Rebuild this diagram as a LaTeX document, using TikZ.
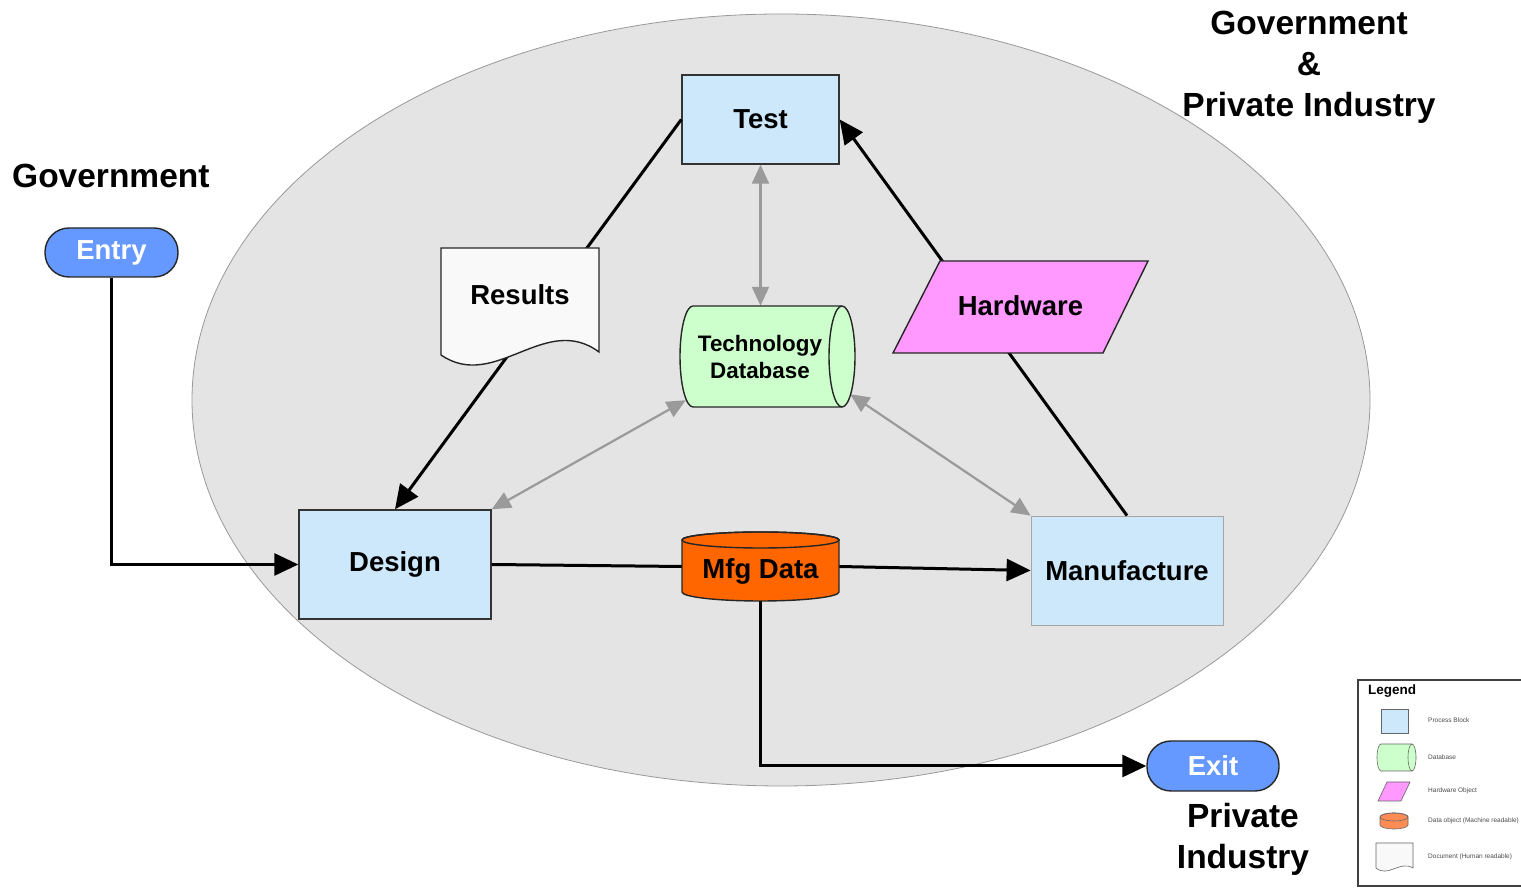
\documentclass[tikz,border=0pt]{standalone}
\usepackage{fontspec}
\setmainfont{Liberation Sans}
\usetikzlibrary{arrows.meta}
\definecolor{procblue}{HTML}{CCE8FA}
\definecolor{dbgreen}{HTML}{CCFFCC}
\definecolor{hwpink}{HTML}{FF99FF}
\definecolor{mfgorange}{HTML}{FF6600}
\definecolor{legorange}{HTML}{FF8C55}
\definecolor{pillblue}{HTML}{6699FF}
\definecolor{docwhite}{HTML}{F9F9F9}
\definecolor{realm}{HTML}{E4E4E4}
\definecolor{linkgray}{HTML}{9A9A9A}
\begin{document}
\begin{tikzpicture}[x=1pt,y=1pt,
  lbl/.style={font=\fontsize{27.5}{33}\selectfont\bfseries},
  procbox/.style={draw=black!80, line width=1.4pt, fill=procblue, inner sep=0pt, lbl},
  hidden/.style={draw=none, inner sep=0pt},
  outline/.style={draw=black!85, line width=1.4pt},
  pill/.style={draw=black!85, line width=1.4pt, fill=pillblue, rounded corners=24pt,
    inner sep=0pt, text=white, lbl},
  flow/.style={line width=3pt, -{Triangle[length=24pt,width=22pt]}},
  plain/.style={line width=3pt},
  link/.style={draw=linkgray, line width=2.2pt,
    {Triangle[length=19pt,width=17pt]}-{Triangle[length=19pt,width=17pt]}},
  biglabel/.style={font=\fontsize{33.5}{41}\selectfont\bfseries, align=center, inner sep=0pt},
  legtext/.style={font=\fontsize{6.5}{8}\selectfont, text=black!70, anchor=west, inner sep=0pt},
  legshape/.style={draw=black!60, line width=0.6pt}
]
\useasboundingbox (0,0) rectangle (1521,888);
\clip (0,0) rectangle (1521,888);

% shared realm of government and private industry
\draw[fill=realm, draw=black!40, line width=0.8pt] (781,488) ellipse[x radius=589, y radius=386];

% node frames
\node[procbox, minimum width=157pt, minimum height=89pt] (test) at (760.5,768.5) {Test};
\node[hidden, minimum width=175pt, minimum height=101pt] (techdb) at (767.5,531.5) {};
\node[hidden, minimum width=158pt, minimum height=117pt] (results) at (520,581.5) {};
\node[hidden, minimum width=255pt, minimum height=92pt] (hardware) at (1020.5,581) {};
\node[procbox, minimum width=192pt, minimum height=109pt] (design) at (395,323.5) {Design};
\node[hidden, minimum width=157pt, minimum height=69pt] (mfg) at (760.5,321.5) {};
\node[procbox, draw=black!35, line width=0.8pt, minimum width=192pt, minimum height=109pt] (manuf) at (1127,317.5) {Manufacture};
\node[pill, minimum width=133pt, minimum height=49pt] (entry) at (111.5,635.5) {Entry};
\node[pill, minimum width=132pt, minimum height=50pt] (exit) at (1213,122) {Exit};

% main flow lines (drawn under the shapes they pass behind)
\draw[flow] (test.west) -- (design.north);
\draw[flow] (manuf.north) -- (test.east);
\draw[flow] (entry.south) |- (design.west);
\draw[plain] (design.east) -- (mfg.west);
\draw[flow] (mfg.east) -- (manuf.west);
\draw[flow] (mfg.south) |- (exit.west);

% links to the technology database
\draw[link] (test.south) -- (test.south |- techdb.north);
\draw[link] ([shift={(6,7)}]techdb.south west) -- (design.north east);
\draw[link] ([shift={(-5,13)}]techdb.south east) -- (manuf.north west);

% technology database: horizontal cylinder
\begin{scope}[shift={(techdb.center)}]
  \draw[outline, fill=dbgreen] (-74.5,50.5) -- (74.5,50.5)
    arc[start angle=90, end angle=-90, x radius=13, y radius=50.5]
    -- (-74.5,-50.5)
    arc[start angle=270, end angle=90, x radius=13, y radius=50.5] -- cycle;
  \draw[outline] (74.5,50.5) arc[start angle=90, end angle=270, x radius=13, y radius=50.5];
\end{scope}
\node[font=\fontsize{22.4}{27}\selectfont\bfseries, align=center] (techdblbl)
  at ([xshift=-7.5,yshift=-1]techdb.center) {Technology\\Database};

% results: document shape
\begin{scope}[shift={(results.center)}]
  \draw[outline, fill=docwhite] (-79,58.5) -- (79,58.5) -- (79,-45.5)
    .. controls (25,-5.5) and (-25,-85.5) .. (-79,-48.5) -- cycle;
\end{scope}
\node[lbl] (resultslbl) at ([yshift=12]results.center) {Results};

% hardware: parallelogram
\begin{scope}[shift={(hardware.center)}]
  \draw[outline, fill=hwpink] (-80.5,46) -- (127.5,46) -- (82.5,-46) -- (-127.5,-46) -- cycle;
\end{scope}
\node[lbl] (hardwarelbl) at ([yshift=1]hardware.center) {Hardware};

% manufacturing data: short upright cylinder
\begin{scope}[shift={(mfg.center)}]
  \draw[outline, fill=mfgorange] (-78.5,26.5) -- (-78.5,-25.5)
    arc[start angle=180, end angle=360, x radius=78.5, y radius=9]
    -- (78.5,26.5)
    arc[start angle=0, end angle=180, x radius=78.5, y radius=8] -- cycle;
  \draw[outline] (0,26.5) ellipse[x radius=78.5, y radius=8];
\end{scope}
\node[lbl] (mfglbl) at ([yshift=-5]mfg.center) {Mfg Data};

% sector labels
\node[biglabel, anchor=west] (govlbl) at (12,712) {Government};
\node[biglabel] (bothlbl) at (1309,821) {Government\\\&\\Private Industry};
\node[biglabel] (privlbl) at (1243,49) {Private\\Industry};

% legend
\draw[draw=black!75, line width=1.2pt, fill=white] (1358,2) rectangle (1545,208);
\node[font=\fontsize{13.5}{16}\selectfont\bfseries, anchor=west, inner sep=0pt] (legendlbl) at (1368,197) {Legend};
\draw[legshape, fill=procblue] (1381,155) rectangle (1408,179);
\node[legtext] (legproc) at (1428,168) {Process Block};
\draw[legshape, fill=dbgreen] (1381,144) -- (1412,144)
  arc[start angle=90, end angle=-90, x radius=4, y radius=13.5] -- (1381,117)
  arc[start angle=270, end angle=90, x radius=4, y radius=13.5] -- cycle;
\draw[legshape] (1412,144) arc[start angle=90, end angle=270, x radius=4, y radius=13.5];
\node[legtext] (legdb) at (1428,131) {Database};
\draw[legshape, fill=hwpink] (1387,106) -- (1410,106) -- (1401,87) -- (1378,87) -- cycle;
\node[legtext] (leghw) at (1428,97) {Hardware Object};
\draw[legshape, fill=legorange] (1380,71) -- (1380,63)
  arc[start angle=180, end angle=360, x radius=14, y radius=4] -- (1408,71)
  arc[start angle=0, end angle=180, x radius=14, y radius=4] -- cycle;
\draw[legshape] (1394,71) ellipse[x radius=14, y radius=4];
\node[legtext] (legdata) at (1428,67) {Data object (Machine readable)};
\draw[legshape, fill=docwhite] (1376,45) -- (1413,45) -- (1413,20)
  .. controls (1400,28) and (1388,10) .. (1376,20) -- cycle;
\node[legtext] (legdoc) at (1428,31) {Document (Human readable)};
\end{tikzpicture}
\end{document}
